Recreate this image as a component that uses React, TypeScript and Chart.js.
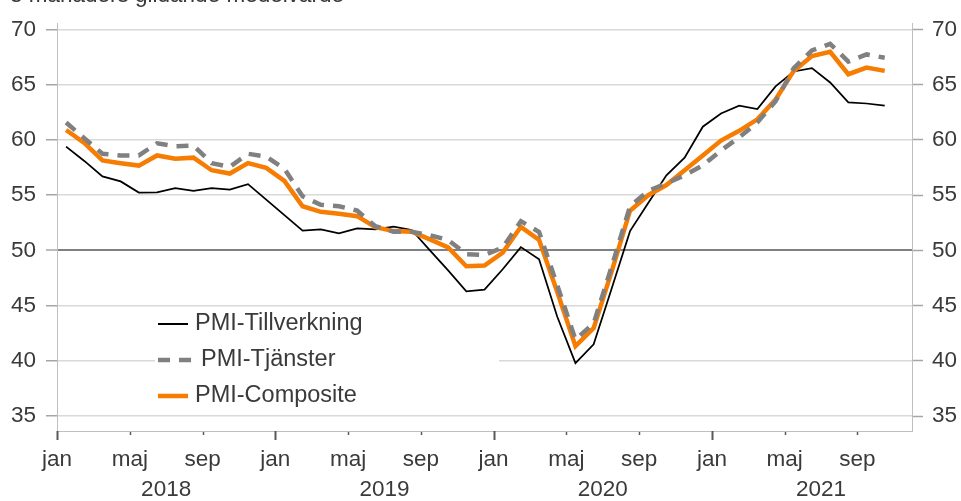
import React, { useEffect, useRef } from 'react';
import { Chart, registerables } from 'chart.js';

Chart.register(...registerables);

const TITLE = '3 månaders glidande medelvärde';
const MONTH_LABELS = ['jan', 'maj', 'sep'];
const YEARS = ['2018', '2019', '2020', '2021'];
const Y_TICKS = [35, 40, 45, 50, 55, 60, 65, 70];
const X_TICKS = [0, 4, 8, 12, 16, 20, 24, 28, 32, 36, 40, 44];
const SERIES_NAMES = ['PMI-Tillverkning', 'PMI-Tjänster', 'PMI-Composite'];

// Monthly values, Jan 2018 - Oct 2021
const tillverkning = [
  59.4, 58.1, 56.7, 56.25, 55.24, 55.25, 55.65, 55.4, 55.65, 55.5, 56.0, 54.6,
  53.2, 51.8, 51.9, 51.55, 52.0, 51.9, 52.15, 51.85, 50.0, 48.2, 46.3, 46.45,
  48.3, 50.3, 49.2, 44.0, 39.8, 41.5, 46.6, 51.75, 54.3, 56.8, 58.4, 61.2,
  62.4, 63.1, 62.8, 64.85, 66.2, 66.5, 65.2, 63.4, 63.3, 63.1,
];
const tjanster = [
  61.58, 60.15, 58.75, 58.6, 58.6, 59.7, 59.43, 59.5, 57.9, 57.56, 58.75, 58.5,
  57.4, 54.9, 54.13, 54.0, 53.6, 52.2, 51.7, 51.7, 51.37, 50.95, 49.67, 49.58,
  50.27, 52.65, 51.67, 46.85, 41.94, 43.4, 48.6, 54.0, 55.4, 56.07, 56.8, 57.7,
  59.05, 60.24, 61.58, 63.5, 66.5, 68.1, 68.7, 67.1, 67.74, 67.44,
];
const composite = [
  60.9, 59.73, 58.15, 57.9, 57.68, 58.6, 58.3, 58.4, 57.26, 56.96, 57.9, 57.47,
  56.3, 54.0, 53.5, 53.33, 53.1, 52.1, 51.75, 51.7, 51.0, 50.27, 48.57, 48.63,
  49.8, 52.14, 50.95, 46.25, 41.34, 42.97, 48.15, 53.6, 55.0, 55.92, 57.26, 58.6,
  59.94, 60.83, 61.87, 63.66, 66.25, 67.6, 67.98, 65.95, 66.55, 66.25,
];

const FONT_FAMILY = "'Liberation Sans', Arial, sans-serif";
const TEXT_COLOR = '#3a3a3a';
const BLACK = '#000000';
const GRAY = '#808080';
const ORANGE = 'rgb(246,124,2)';
const DASH = [12, 9];

const toPoints = (arr: number[]) => arr.map((v, i) => ({ x: i + 0.5, y: v }));

const decorPlugin = {
  id: 'decor',
  beforeDatasetsDraw(chart: any) {
    const ctx = chart.ctx;
    ctx.save();
    // legend box (covers gridlines)
    ctx.fillStyle = '#ffffff';
    ctx.fillRect(155, 309, 344, 100);
    const rows = [
      { y: 324, color: BLACK, width: 2, dash: [] as number[], tx: 195 },
      { y: 360, color: GRAY, width: 4.5, dash: DASH, tx: 201 },
      { y: 396, color: ORANGE, width: 4.5, dash: [] as number[], tx: 195 },
    ];
    rows.forEach((r, i) => {
      ctx.beginPath();
      ctx.setLineDash(r.dash);
      ctx.strokeStyle = r.color;
      ctx.lineWidth = r.width;
      ctx.moveTo(158, r.y);
      ctx.lineTo(i === 1 ? 192 : 188, r.y);
      ctx.stroke();
      ctx.setLineDash([]);
      ctx.fillStyle = TEXT_COLOR;
      ctx.font = `23.5px ${FONT_FAMILY}`;
      ctx.textBaseline = 'middle';
      ctx.textAlign = 'left';
      ctx.fillText(SERIES_NAMES[i], r.tx, r.y);
    });
    ctx.restore();
  },
  afterDraw(chart: any) {
    const ctx = chart.ctx;
    const xs = chart.scales.x;
    const bottom = chart.chartArea.bottom;
    ctx.save();
    // x tick marks
    X_TICKS.forEach((v) => {
      const px = Math.round(xs.getPixelForValue(v)) + 0.5;
      const isJan = v % 12 === 0;
      ctx.beginPath();
      ctx.strokeStyle = '#595959';
      ctx.lineWidth = isJan ? 2 : 1.5;
      ctx.moveTo(px, bottom + (isJan ? 0 : 1));
      ctx.lineTo(px, bottom + (isJan ? 9 : 4));
      ctx.stroke();
    });
    // years
    ctx.fillStyle = TEXT_COLOR;
    ctx.font = `22.5px ${FONT_FAMILY}`;
    ctx.textAlign = 'center';
    ctx.textBaseline = 'middle';
    YEARS.forEach((y, k) => {
      ctx.fillText(y, xs.getPixelForValue(6 + 12 * k), 490);
    });
    // title (cropped at top)
    ctx.textAlign = 'left';
    ctx.textBaseline = 'alphabetic';
    ctx.fillText(TITLE, 10, 2);
    ctx.restore();
  },
};

export default function App() {
  const ref = useRef<HTMLCanvasElement | null>(null);

  useEffect(() => {
    document.body.style.margin = '0';
    const canvas = ref.current;
    if (!canvas) return;
    const tickFont = { family: FONT_FAMILY, size: 22.5 };
    const chart = new Chart(canvas, {
      type: 'line',
      data: {
        datasets: [
          {
            label: SERIES_NAMES[0],
            data: toPoints(tillverkning),
            borderColor: BLACK,
            borderWidth: 1.75,
            pointRadius: 0,
            tension: 0,
            order: 3,
          },
          {
            label: SERIES_NAMES[1],
            data: toPoints(tjanster),
            borderColor: GRAY,
            borderWidth: 4.5,
            borderDash: DASH,
            pointRadius: 0,
            tension: 0,
            order: 1,
          },
          {
            label: SERIES_NAMES[2],
            data: toPoints(composite),
            borderColor: ORANGE,
            borderWidth: 4.5,
            pointRadius: 0,
            tension: 0,
            order: 2,
          },
        ],
      },
      options: {
        responsive: false,
        animation: false,
        devicePixelRatio: 1,
        layout: { padding: { top: 18, left: 0, right: 0, bottom: 0 } },
        plugins: { legend: { display: false }, tooltip: { enabled: false } },
        scales: {
          x: {
            type: 'linear',
            min: 0,
            max: 47,
            position: 'bottom',
            afterFit: (s: any) => {
              s.height = 70;
            },
            afterBuildTicks: (s: any) => {
              s.ticks = X_TICKS.map((v) => ({ value: v }));
            },
            ticks: {
              callback: (v: any) => MONTH_LABELS[(Number(v) / 4) % 3],
              color: TEXT_COLOR,
              font: tickFont,
              padding: 15,
              maxRotation: 0,
              autoSkip: false,
            },
            grid: { drawOnChartArea: false, drawTicks: false },
            border: { display: true, color: '#bfbfbf', width: 1 },
          },
          y: {
            type: 'linear',
            position: 'left',
            min: 33.66,
            max: 70.54,
            afterFit: (s: any) => {
              s.width = 57;
            },
            afterBuildTicks: (s: any) => {
              s.ticks = Y_TICKS.map((v) => ({ value: v }));
            },
            ticks: { color: TEXT_COLOR, font: tickFont, padding: 10 },
            grid: {
              color: (c: any) => (c.tick && c.tick.value === 50 ? '#808080' : '#d9d9d9'),
              lineWidth: (c: any) => (c.tick && c.tick.value === 50 ? 2 : 1.5),
              tickColor: '#a6a6a6',
              tickLength: 11,
              tickWidth: 1.5,
            },
            border: { display: true, color: '#bfbfbf', width: 1 },
          },
          y2: {
            type: 'linear',
            position: 'right',
            min: 33.66,
            max: 70.54,
            afterFit: (s: any) => {
              s.width = 49;
            },
            afterBuildTicks: (s: any) => {
              s.ticks = Y_TICKS.map((v) => ({ value: v }));
            },
            ticks: { color: TEXT_COLOR, font: tickFont, padding: 9 },
            grid: {
              drawOnChartArea: false,
              tickColor: '#a6a6a6',
              tickLength: 11,
              tickWidth: 1.5,
            },
            border: { display: true, color: '#bfbfbf', width: 1 },
          },
        },
      },
      plugins: [decorPlugin],
    } as any);
    return () => chart.destroy();
  }, []);

  return (
    <div style={{ position: 'fixed', left: 0, top: 0, width: 961, height: 501, background: '#fff' }}>
      <canvas ref={ref} width={961} height={501} style={{ width: 961, height: 501, display: 'block' }} />
    </div>
  );
}
